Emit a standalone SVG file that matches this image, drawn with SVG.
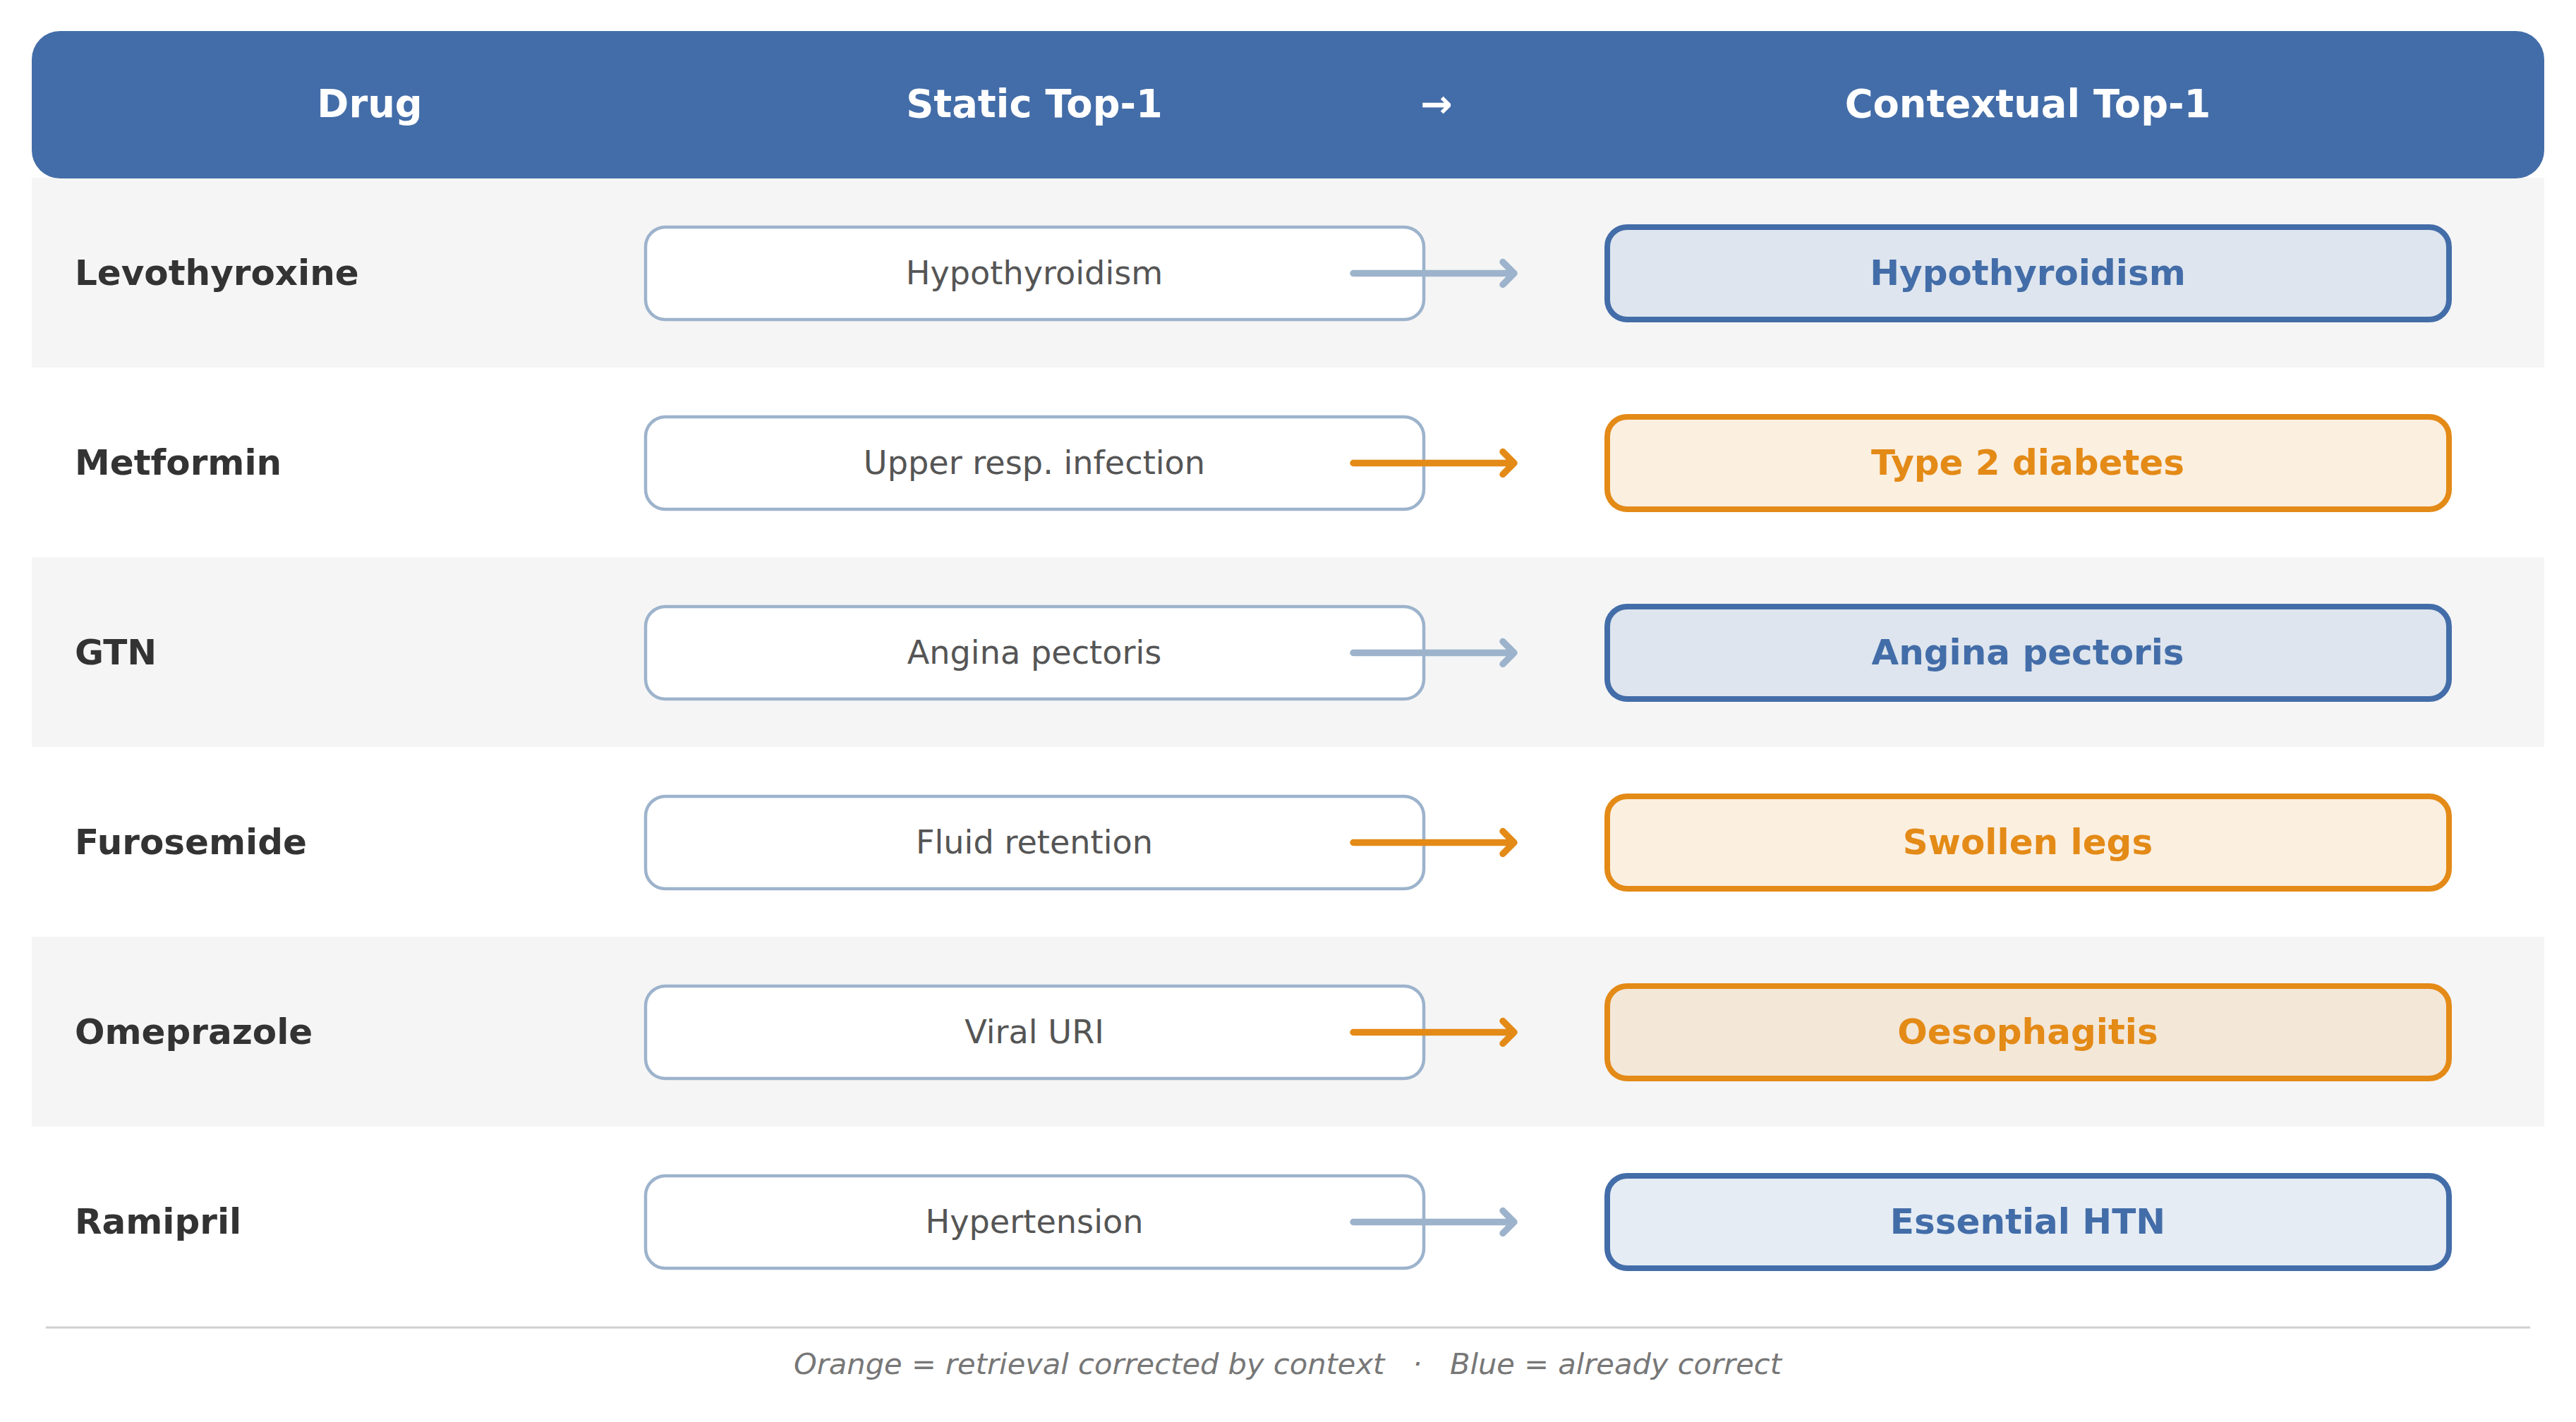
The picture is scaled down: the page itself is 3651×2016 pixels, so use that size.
<svg xmlns="http://www.w3.org/2000/svg" width="3651" height="2016" viewBox="0 0 3651 2016">
<style>
text{font-family:"DejaVu Sans","Noto Sans",sans-serif}
.hd{fill:#ffffff;font-weight:bold;font-size:54.3px;text-anchor:middle}
.drug{fill:#333333;font-weight:bold;font-size:50px}
.st{fill:#ffffff;stroke:#9db3cc;stroke-width:4.5}
.stt{fill:#555555;font-size:46.2px;text-anchor:middle}
.cb{stroke:#436da8;stroke-width:8}
.co{stroke:#e38a17;stroke-width:8}
.ctb{fill:#436da8;font-weight:bold;font-size:50px;text-anchor:middle}
.cto{fill:#e38a17;font-weight:bold;font-size:50px;text-anchor:middle}
.ab{fill:none;stroke:#9db3cc;stroke-width:9.5;stroke-linecap:round;stroke-linejoin:round}
.ao{fill:none;stroke:#e38a17;stroke-width:9.5;stroke-linecap:round;stroke-linejoin:round}
.alt{fill:#f5f5f5}
</style>
<rect width="3651" height="2016" fill="#ffffff"/>
<g id="row-backgrounds">
<rect class="alt" x="45" y="252" width="3561" height="269"/>
<rect class="alt" x="45" y="790" width="3561" height="269"/>
<rect class="alt" x="45" y="1328" width="3561" height="269"/>
</g>
<g id="header">
<rect x="45" y="44" width="3561" height="209" rx="40" fill="#436da8"/>
<text class="hd" x="524" y="166">Drug</text>
<text class="hd" x="1466" y="166">Static Top-1</text>
<text class="hd" x="2036" y="166">→</text>
<text class="hd" x="2874" y="166">Contextual Top-1</text>
</g>
<g id="row1">
<text class="drug" x="106" y="404">Levothyroxine</text>
<g id="static1"><rect class="st" x="915" y="322" width="1103" height="131" rx="28"/><text class="stt" x="1466" y="403">Hypothyroidism</text></g>
<g id="ctx1"><rect class="cb" fill="#dee5ee" x="2278" y="322" width="1193" height="131" rx="28"/><text class="ctb" x="2874" y="404">Hypothyroidism</text></g>
</g>
<g id="row2">
<text class="drug" x="106" y="673">Metformin</text>
<g id="static2"><rect class="st" x="915" y="591" width="1103" height="131" rx="28"/><text class="stt" x="1466" y="672">Upper resp. infection</text></g>
<g id="ctx2"><rect class="co" fill="#fbefe0" x="2278" y="591" width="1193" height="131" rx="28"/><text class="cto" x="2874" y="673">Type 2 diabetes</text></g>
</g>
<g id="row3">
<text class="drug" x="106" y="942">GTN</text>
<g id="static3"><rect class="st" x="915" y="860" width="1103" height="131" rx="28"/><text class="stt" x="1466" y="941">Angina pectoris</text></g>
<g id="ctx3"><rect class="cb" fill="#dee5ee" x="2278" y="860" width="1193" height="131" rx="28"/><text class="ctb" x="2874" y="942">Angina pectoris</text></g>
</g>
<g id="row4">
<text class="drug" x="106" y="1211">Furosemide</text>
<g id="static4"><rect class="st" x="915" y="1129" width="1103" height="131" rx="28"/><text class="stt" x="1466" y="1210">Fluid retention</text></g>
<g id="ctx4"><rect class="co" fill="#fbefe0" x="2278" y="1129" width="1193" height="131" rx="28"/><text class="cto" x="2874" y="1211">Swollen legs</text></g>
</g>
<g id="row5">
<text class="drug" x="106" y="1480">Omeprazole</text>
<g id="static5"><rect class="st" x="915" y="1398" width="1103" height="131" rx="28"/><text class="stt" x="1466" y="1479">Viral URI</text></g>
<g id="ctx5"><rect class="co" fill="#f3e7d8" x="2278" y="1398" width="1193" height="131" rx="28"/><text class="cto" x="2874" y="1480">Oesophagitis</text></g>
</g>
<g id="row6">
<text class="drug" x="106" y="1749">Ramipril</text>
<g id="static6"><rect class="st" x="915" y="1667" width="1103" height="131" rx="28"/><text class="stt" x="1466" y="1748">Hypertension</text></g>
<g id="ctx6"><rect class="cb" fill="#e5ecf4" x="2278" y="1667" width="1193" height="131" rx="28"/><text class="ctb" x="2874" y="1749">Essential HTN</text></g>
</g>
<g id="connectors">
<path class="ab" d="M1918 387.5H2145M2130 371.5L2146 387.5L2130 403.5"/>
<path class="ao" d="M1918 656.5H2145M2130 640.5L2146 656.5L2130 672.5"/>
<path class="ab" d="M1918 925.5H2145M2130 909.5L2146 925.5L2130 941.5"/>
<path class="ao" d="M1918 1194.5H2145M2130 1178.5L2146 1194.5L2130 1210.5"/>
<path class="ao" d="M1918 1463.5H2145M2130 1447.5L2146 1463.5L2130 1479.5"/>
<path class="ab" d="M1918 1732.5H2145M2130 1716.5L2146 1732.5L2130 1748.5"/>
</g>
<g id="footer">
<line x1="65" y1="1882" x2="3586" y2="1882" stroke="#cfcfcf" stroke-width="3"/>
<text x="1825" y="1948" xml:space="preserve" text-anchor="middle" font-style="italic" font-size="41.6px" fill="#777777">Orange = retrieval corrected by context   ·   Blue = already correct</text>
</g>
</svg>
